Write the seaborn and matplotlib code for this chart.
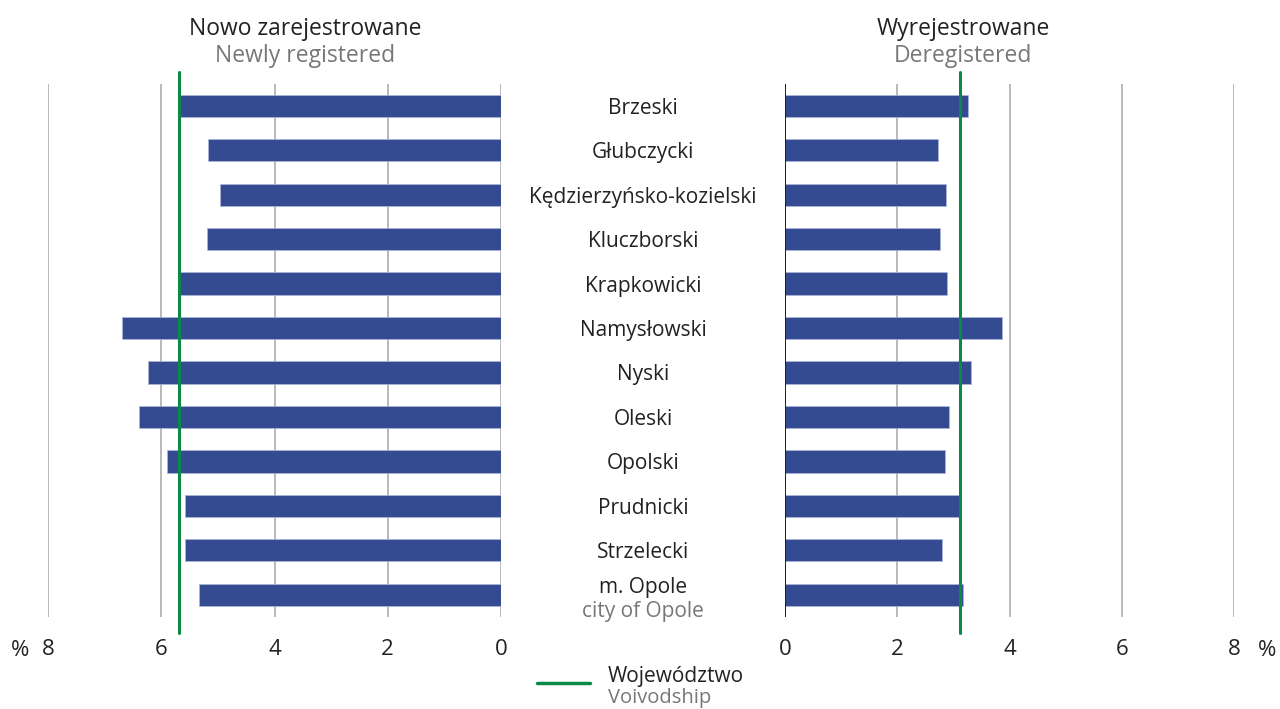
import matplotlib
matplotlib.use("Agg")
import matplotlib.pyplot as plt
import matplotlib.transforms as mtransforms
import pandas as pd
import seaborn as sns

# Data (% values)
powiaty = ["Brzeski", "Głubczycki", "Kędzierzyńsko-kozielski", "Kluczborski",
           "Krapkowicki", "Namysłowski", "Nyski", "Oleski", "Opolski",
           "Prudnicki", "Strzelecki", "m. Opole"]
newly_registered = [5.67, 5.18, 4.96, 5.19, 5.67, 6.69, 6.24, 6.40, 5.90, 5.58, 5.58, 5.34]
deregistered = [3.26, 2.73, 2.87, 2.76, 2.89, 3.86, 3.32, 2.92, 2.85, 3.11, 2.79, 3.17]
voiv_new = 5.68
voiv_dereg = 3.12
xticks = [0, 2, 4, 6, 8]

BAR = "#344B92"
GREEN = "#0B8A47"
GRID = "#A6A6A6"
GRAYTXT = "#777777"
FONT = ["Open Sans", "DejaVu Sans"]

sns.set_theme(style="white")
plt.rcParams["font.family"] = FONT

df = pd.DataFrame({"powiat": powiaty, "new": newly_registered, "dereg": deregistered})

W, H = 1280, 709
fig = plt.figure(figsize=(12.8, 7.09), dpi=100)
ax_l = fig.add_axes([48 / W, 1 - 617 / H, 453 / W, 533.5 / H])
ax_r = fig.add_axes([785 / W, 1 - 617 / H, 449 / W, 533.5 / H])

for ax, col, voiv in [(ax_l, "new", voiv_new), (ax_r, "dereg", voiv_dereg)]:
    sns.barplot(data=df, x=col, y="powiat", ax=ax, color=BAR, width=0.5,
                saturation=1, edgecolor="#AEB8DA", linewidth=0.5, zorder=3)
    ax.set_xlim(0, 8)
    ax.set_ylim(11.5, -0.5)
    ax.set_xticks(xticks)
    ax.set_xticklabels([str(t) for t in xticks], fontsize=16, color="#222222")
    ax.tick_params(axis="x", length=0, pad=16)
    ax.set_yticks([])
    ax.set_xlabel("")
    ax.set_ylabel("")
    for s in ax.spines.values():
        s.set_visible(False)
    for t in xticks:
        ax.axvline(t, color=GRID, lw=1.1, zorder=1)
    ax.axvline(voiv, ymin=-0.03, ymax=1.022, color=GREEN, lw=2.2, zorder=4, clip_on=False)

ax_l.invert_xaxis()
ax_r.axvline(0, color="#111111", lw=1.3, zorder=5)

# category labels between the panels
trans = mtransforms.blended_transform_factory(fig.transFigure, ax_r.transData)
cx = 643 / W
for i, name in enumerate(powiaty):
    if name == "m. Opole":
        ax_r.text(cx, i - 0.22, name, transform=trans, ha="center", va="center_baseline",
                  fontsize=15, color="#222222")
        ax_r.text(cx, i + 0.33, "city of Opole", transform=trans, ha="center",
                  va="center_baseline", fontsize=15, color=GRAYTXT)
    else:
        ax_r.text(cx, i, name, transform=trans, ha="center", va="center_baseline",
                  fontsize=15, color="#222222")

# panel titles
fig.text(305 / W, 1 - 26 / H, "Nowo zarejestrowane", ha="center", va="center_baseline",
         fontsize=16.5, color="#222222")
fig.text(305 / W, 1 - 53 / H, "Newly registered", ha="center", va="center_baseline",
         fontsize=16.5, color=GRAYTXT)
fig.text(963 / W, 1 - 26 / H, "Wyrejestrowane", ha="center", va="center_baseline",
         fontsize=16.5, color="#222222")
fig.text(963 / W, 1 - 53 / H, "Deregistered", ha="center", va="center_baseline",
         fontsize=16.5, color=GRAYTXT)

# percent signs
fig.text(20 / W, 1 - 648 / H, "%", ha="center", va="center_baseline", fontsize=16,
         color="#222222")
fig.text(1267 / W, 1 - 648 / H, "%", ha="center", va="center_baseline", fontsize=16,
         color="#222222")

# legend
fig.add_artist(plt.Line2D([537 / W, 590 / W], [1 - 683 / H, 1 - 683 / H],
                          color=GREEN, lw=2.5, transform=fig.transFigure))
fig.text(608 / W, 1 - 674 / H, "Województwo", ha="left", va="center_baseline",
         fontsize=15, color="#222222")
fig.text(608 / W, 1 - 695 / H, "Voivodship", ha="left", va="center_baseline",
         fontsize=14.5, color=GRAYTXT)

fig.savefig("out.png", dpi=100, facecolor="white")
